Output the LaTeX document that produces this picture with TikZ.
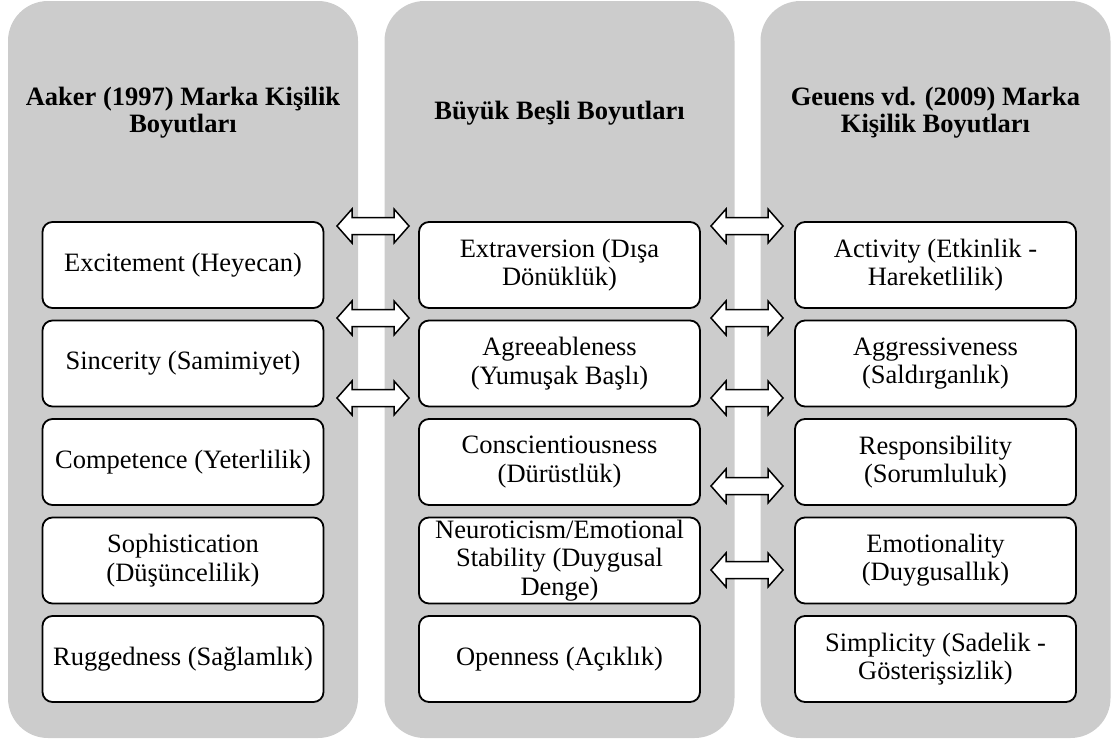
\documentclass[tikz,border=0pt]{standalone}
\usepackage{fontspec}
\setmainfont{Liberation Serif}
\definecolor{colgrey}{RGB}{204,204,204}
\tikzset{
  column/.style={fill=colgrey, draw=none, rounded corners=40pt, minimum width=350pt, minimum height=737pt, inner sep=0pt},
  item/.style={draw=black, line width=1.8pt, fill=white, rounded corners=10pt,
    minimum width=281pt, minimum height=86pt, align=center, inner sep=0pt,
    font=\fontsize{26.5}{28.3}\selectfont},
  coltitle/.style={align=center, inner sep=0pt, font=\fontsize{26.5}{27.3}\selectfont\bfseries},
  arrowshape/.style={draw=black, fill=white, line width=1.5pt, line join=miter},
  dblarrow/.pic={\draw[arrowshape] (-36,0) -- (-21,-17) -- (-21,-8.5) -- (21,-8.5) -- (21,-17)
      -- (36,0) -- (21,17) -- (21,8.5) -- (-21,8.5) -- (-21,17) -- cycle;}
}
\begin{document}
\begin{tikzpicture}[x=1pt, y=-1pt]
\useasboundingbox (0,0) rectangle (1111,742);
% columns
\node[column] (colL) at (183,369.5) {};
\node[column] (colM) at (559.5,369.5) {};
\node[column] (colR) at (935.5,369.5) {};
% titles
\node[coltitle] (tL) at (183,113) {Aaker (1997) Marka Kişilik\\Boyutları};
\node[coltitle] (tM) at (559.5,113) {Büyük Beşli Boyutları};
\node[coltitle] (tR) at (935.5,113) {Geuens vd. (2009) Marka\\Kişilik Boyutları};
% left boxes
\node[item] (L1) at (183,265)   {Excitement (Heyecan)};
\node[item] (L2) at (183,363.5) {Sincerity (Samimiyet)};
\node[item] (L3) at (183,462)   {Competence (Yeterlilik)};
\node[item] (L4) at (183,560.5) {Sophistication\\(Düşüncelilik)};
\node[item] (L5) at (183,659)   {Ruggedness (Sağlamlık)};
% middle boxes
\node[item] (M1) at (559.5,265)   {Extraversion (Dışa\\Dönüklük)};
\node[item] (M2) at (559.5,363.5) {Agreeableness\\(Yumuşak Başlı)};
\node[item] (M3) at (559.5,462)   {Conscientiousness\\(Dürüstlük)};
\node[item] (M4) at (559.5,560.5) {Neuroticism/Emotional\\Stability (Duygusal\\Denge)};
\node[item] (M5) at (559.5,659)   {Openness (Açıklık)};
% right boxes
\node[item] (R1) at (935.5,265)   {Activity (Etkinlik -\\Hareketlilik)};
\node[item] (R2) at (935.5,363.5) {Aggressiveness\\(Saldırganlık)};
\node[item] (R3) at (935.5,462)   {Responsibility\\(Sorumluluk)};
\node[item] (R4) at (935.5,560.5) {Emotionality\\(Duygusallık)};
\node[item] (R5) at (935.5,659)   {Simplicity (Sadelik -\\Gösterişsizlik)};
% double arrows, left gap
\pic at (373,226) {dblarrow};
\pic at (373,318) {dblarrow};
\pic at (373,398) {dblarrow};
% double arrows, right gap
\pic at (747,226) {dblarrow};
\pic at (747,318) {dblarrow};
\pic at (747,398) {dblarrow};
\pic at (747,486) {dblarrow};
\pic at (747,570) {dblarrow};
\end{tikzpicture}
\end{document}
